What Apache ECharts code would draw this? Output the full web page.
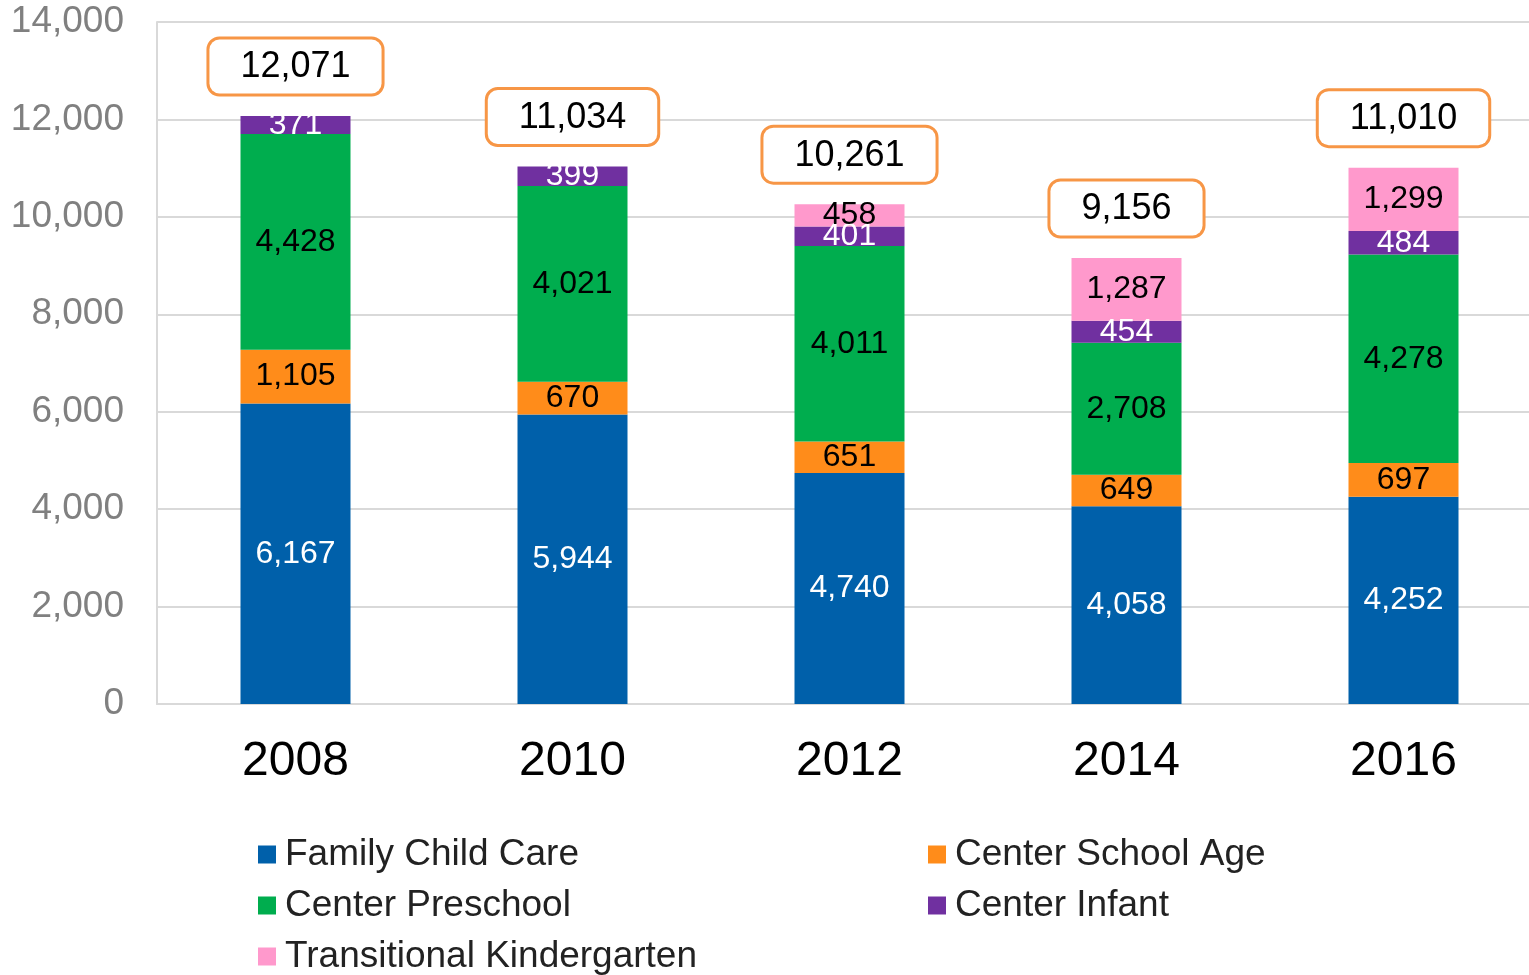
<!DOCTYPE html>
<html>
<head>
<meta charset="utf-8">
<script src="https://cdn.jsdelivr.net/npm/echarts@6/dist/echarts.min.js"></script>
<style>
  html, body { margin: 0; padding: 0; background: #fff; }
  #main { width: 1529px; height: 975px; }
</style>
</head>
<body>
<div id="main"></div>
<script>
// chart data
var years = ['2008', '2010', '2012', '2014', '2016'];
var familyChildCare = [6167, 5944, 4740, 4058, 4252];
var centerSchoolAge = [1105, 670, 651, 649, 697];
var centerPreschool = [4428, 4021, 4011, 2708, 4278];
var centerInfant = [371, 399, 401, 454, 484];
var transitionalK = [null, null, 458, 1287, 1299];
var totals = [12071, 11034, 10261, 9156, 11010];

var font = 'Liberation Sans, Arial, sans-serif';

function fmt(v) {
  return v.toLocaleString('en-US');
}

function stackSeries(name, data, color, labelColor) {
  return {
    name: name,
    type: 'bar',
    stack: 'total',
    barWidth: 110,
    data: data,
    itemStyle: { color: color },
    label: {
      show: true,
      position: 'inside',
      color: labelColor,
      fontFamily: font,
      fontSize: 32,
      formatter: function (p) { return p.value == null ? '' : fmt(p.value); }
    }
  };
}

var legendText = { fontSize: 37, color: '#222', fontFamily: font, lineHeight: 36, padding: [0, 0, 0, 4] };

var myChart = echarts.init(document.getElementById('main'));

var option = {
  animation: false,
  textStyle: { fontFamily: font },
  // plot runs a little past the right edge, as in the original
  grid: { left: 157, width: 1385, top: 22, bottom: 271, containLabel: false, outerBoundsMode: 'none' },
  legend: [
    {
      orient: 'vertical',
      left: 258,
      top: 836,
      padding: 0,
      itemWidth: 18,
      itemHeight: 18,
      itemGap: 14,
      icon: 'rect',
      data: ['Family Child Care', 'Center Preschool', 'Transitional Kindergarten'],
      textStyle: legendText
    },
    {
      orient: 'vertical',
      left: 928,
      top: 836,
      padding: 0,
      itemWidth: 18,
      itemHeight: 18,
      itemGap: 14,
      icon: 'rect',
      data: ['Center School Age', 'Center Infant'],
      textStyle: legendText
    }
  ],
  xAxis: {
    type: 'category',
    data: years,
    axisLine: { show: true, lineStyle: { color: '#d9d9d9', width: 2 } },
    axisTick: { show: false },
    axisLabel: { color: '#000', fontSize: 48, margin: 34, fontFamily: font }
  },
  yAxis: {
    type: 'value',
    min: 0,
    max: 14000,
    interval: 2000,
    axisLine: { show: true, lineStyle: { color: '#d9d9d9', width: 2 } },
    axisTick: { show: false },
    splitLine: { lineStyle: { color: '#d9d9d9', width: 2 } },
    axisLabel: {
      color: '#808080',
      fontSize: 37,
      margin: 33,
      fontFamily: font,
      formatter: function (v) { return fmt(v); }
    }
  },
  series: [
    stackSeries('Family Child Care', familyChildCare, '#0060AA', '#fff'),
    stackSeries('Center School Age', centerSchoolAge, '#FF8C1A', '#000'),
    stackSeries('Center Preschool', centerPreschool, '#00AD4E', '#000'),
    stackSeries('Center Infant', centerInfant, '#7030A0', '#fff'),
    stackSeries('Transitional Kindergarten', transitionalK, '#FF99CC', '#000'),
    {
      name: 'Total',
      type: 'scatter',
      data: totals,
      symbolSize: 1,
      itemStyle: { color: 'rgba(0,0,0,0)', opacity: 1 },
      label: {
        show: true,
        position: 'top',
        distance: 22,
        color: '#000',
        fontFamily: font,
        fontSize: 36,
        backgroundColor: '#fff',
        borderColor: '#F79646',
        borderWidth: 3,
        borderRadius: 10,
        padding: [10, 31, 8, 31],
        formatter: function (p) { return fmt(p.value); }
      }
    }
  ]
};

myChart.setOption(option);
</script>
</body>
</html>
